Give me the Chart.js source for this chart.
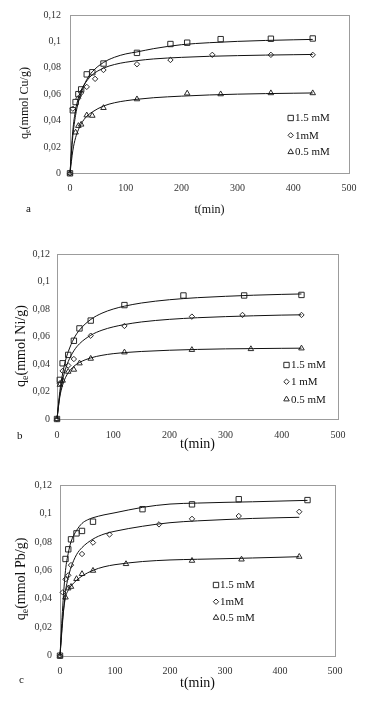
<!DOCTYPE html>
<html><head><meta charset="utf-8">
<script src="https://cdn.jsdelivr.net/npm/chart.js@4.4.1/dist/chart.umd.min.js"></script>
<style>
html,body{margin:0;padding:0;background:#fff;}
body{width:370px;height:705px;position:relative;overflow:hidden;}
canvas{position:absolute;left:0;}
.lbl{position:absolute;font-family:"Liberation Serif","Times New Roman",serif;font-size:11px;color:#111;line-height:11px;}
</style></head><body>
<canvas id="ca" width="370" height="235" style="top:0px;width:370px;height:235px"></canvas>
<canvas id="cb" width="370" height="235" style="top:235px;width:370px;height:235px"></canvas>
<canvas id="cc" width="370" height="235" style="top:470px;width:370px;height:235px"></canvas>
<div class="lbl" style="left:26px;top:203px">a</div>
<div class="lbl" style="left:17px;top:430px">b</div>
<div class="lbl" style="left:19px;top:674px">c</div>
<script>
// ---------- shared axis data ----------
const xTicks = [0, 100, 200, 300, 400, 500];
const xTickLabels = ['0', '100', '200', '300', '400', '500'];
const yTicks = [0, 0.02, 0.04, 0.06, 0.08, 0.1, 0.12];
const yTickLabels = ['0', '0,02', '0,04', '0,06', '0,08', '0,1', '0,12'];
const xTitle = 't(min)';

// ---------- panel a : Cu ----------
const aTitleY = ['q', 'e', '(mmol Cu/g)'];
const aLabels = ['1.5 mM', '1mM', '0.5 mM'];
const aT15 = [0, 5, 10, 15, 20, 30, 40, 60, 120, 180, 210, 270, 360, 435];
const aQ15 = [0, 0.0478, 0.054, 0.060, 0.0636, 0.075, 0.0766, 0.0832, 0.0913, 0.098, 0.099, 0.1017, 0.102, 0.1022];
const aT10 = [0, 5, 15, 20, 30, 45, 60, 120, 180, 255, 360, 435];
const aQ10 = [0, 0.049, 0.057, 0.061, 0.0655, 0.0716, 0.0783, 0.0827, 0.0859, 0.0898, 0.0898, 0.0898];
const aT05 = [0, 10, 15, 20, 30, 40, 60, 120, 210, 270, 360, 435];
const aQ05 = [0, 0.031, 0.036, 0.037, 0.044, 0.0437, 0.0496, 0.0562, 0.0606, 0.060, 0.0608, 0.0608];
const aFitT = [0, 5, 10, 15, 20, 30, 40, 60, 80, 100, 120, 150, 200, 250, 300, 350, 400, 435];
const aFit15 = [0, 0.028, 0.044, 0.054, 0.061, 0.071, 0.077, 0.084, 0.088, 0.0905, 0.092, 0.0945, 0.0975, 0.099, 0.100, 0.1007, 0.1012, 0.1015];
const aFit10 = [0, 0.032, 0.048, 0.057, 0.063, 0.070, 0.0747, 0.0797, 0.0825, 0.0842, 0.0854, 0.0867, 0.0879, 0.0887, 0.0892, 0.0896, 0.0899, 0.0901];
const aFit05 = [0, 0.017, 0.027, 0.033, 0.0375, 0.0432, 0.0465, 0.051, 0.0535, 0.055, 0.0561, 0.0573, 0.0585, 0.0594, 0.060, 0.0604, 0.0607, 0.0609];

// ---------- panel b : Ni ----------
const bTitleY = ['q', 'e', '(mmol Ni/g)'];
const bLabels = ['1.5 mM', '1 mM', '0.5 mM'];
const bT15 = [0, 5, 10, 20, 30, 40, 60, 120, 225, 333, 435];
const bQ15 = [0, 0.0285, 0.0406, 0.0467, 0.057, 0.066, 0.0717, 0.083, 0.090, 0.090, 0.0904];
const bT10 = [0, 5, 10, 20, 30, 60, 120, 240, 330, 435];
const bQ10 = [0, 0.026, 0.035, 0.039, 0.0437, 0.0607, 0.0678, 0.0746, 0.0758, 0.0758];
const bT05 = [0, 5, 10, 20, 30, 40, 60, 120, 240, 345, 435];
const bQ05 = [0, 0.025, 0.028, 0.0345, 0.036, 0.0406, 0.044, 0.0486, 0.0504, 0.051, 0.0515];
const bFitT = [0, 5, 10, 15, 20, 30, 40, 60, 80, 100, 120, 150, 200, 250, 300, 350, 400, 435];
const bFit15 = [0, 0.020, 0.033, 0.0424, 0.049, 0.0586, 0.0648, 0.0725, 0.0771, 0.0801, 0.0822, 0.0845, 0.0869, 0.0884, 0.0894, 0.0902, 0.0908, 0.0911];
const bFit10 = [0, 0.0174, 0.0285, 0.0362, 0.0419, 0.0497, 0.0548, 0.061, 0.0647, 0.0671, 0.0688, 0.0707, 0.0726, 0.0738, 0.0746, 0.0752, 0.0757, 0.0759];
const bFit05 = [0, 0.0161, 0.0247, 0.0301, 0.0337, 0.0384, 0.0412, 0.0445, 0.0464, 0.0476, 0.0484, 0.0492, 0.0501, 0.0507, 0.0511, 0.0513, 0.0515, 0.0516];

// ---------- panel c : Pb ----------
const cTitleY = ['q', 'e', '(mmol Pb/g)'];
const cLabels = ['1.5 mM', '1mM', '0.5 mM'];
const cT15 = [0, 10, 15, 20, 30, 40, 60, 150, 240, 325, 450];
const cQ15 = [0, 0.068, 0.0748, 0.0818, 0.086, 0.0877, 0.0942, 0.103, 0.1064, 0.110, 0.1094];
const cT10 = [0, 5, 10, 15, 20, 40, 60, 90, 180, 240, 325, 435];
const cQ10 = [0, 0.0445, 0.0537, 0.0565, 0.0637, 0.0715, 0.0795, 0.0852, 0.0923, 0.0962, 0.0982, 0.1012];
const cT05 = [0, 10, 15, 20, 30, 40, 60, 120, 240, 330, 435];
const cQ05 = [0, 0.041, 0.0474, 0.0485, 0.054, 0.0575, 0.0598, 0.0645, 0.0668, 0.0677, 0.0696];
const cFitT15 = [0, 5, 10, 15, 20, 30, 40, 50, 60, 80, 100, 150, 200, 250, 300, 350, 400, 450];
const cFit15 = [0, 0.035, 0.060, 0.072, 0.080, 0.088, 0.093, 0.0955, 0.097, 0.099, 0.1005, 0.1043, 0.1066, 0.1073, 0.1078, 0.1082, 0.1087, 0.1092];
const cFitT = [0, 5, 10, 15, 20, 30, 40, 60, 80, 100, 150, 200, 250, 300, 350, 400, 435];
const cFit10 = [0, 0.025, 0.045, 0.055, 0.062, 0.071, 0.076, 0.082, 0.0855, 0.0875, 0.091, 0.0935, 0.0948, 0.0957, 0.0965, 0.097, 0.0973];
const cFit05 = [0, 0.027, 0.041, 0.046, 0.049, 0.053, 0.056, 0.060, 0.0625, 0.064, 0.0662, 0.0673, 0.0678, 0.0682, 0.0687, 0.0692, 0.0696];

// ---------- helpers ----------
const FONT = '"Liberation Serif", "Times New Roman", serif';
Chart.defaults.font.family = FONT;
const pts = (xs, ys) => xs.map((x, i) => ({x: x, y: ys[i]}));
const markerStyles = [
  {pointStyle: 'rect', radius: 3.8},
  {pointStyle: 'rectRot', radius: 2.7},
  {pointStyle: 'triangle', radius: 3.2}
];
const markColor = '#2a2a2a';

const framePlugin = {
  id: 'frame',
  beforeDatasetsDraw(chart) {
    const {ctx, chartArea: a} = chart;
    ctx.save();
    ctx.strokeStyle = '#9c9c9c';
    ctx.lineWidth = 1;
    ctx.strokeRect(Math.round(a.left) + 0.5, Math.round(a.top) + 0.5,
      Math.round(a.right) - Math.round(a.left), Math.round(a.bottom) - Math.round(a.top));
    ctx.restore();
  }
};

// y axis title with a subscript, drawn rotated
const yTitlePlugin = {
  id: 'yTitleSub',
  afterDraw(chart, args, o) {
    const ctx = chart.ctx;
    const big = o.size + 'px ' + FONT, small = Math.round(o.size * 0.68) + 'px ' + FONT;
    ctx.save();
    ctx.fillStyle = '#111';
    ctx.textBaseline = 'middle';
    ctx.textAlign = 'left';
    ctx.font = big; const w1 = ctx.measureText(o.parts[0]).width; const w3 = ctx.measureText(o.parts[2]).width;
    ctx.font = small; const w2 = ctx.measureText(o.parts[1]).width;
    const total = w1 + w2 + w3;
    ctx.translate(o.x, o.yc);
    ctx.rotate(-Math.PI / 2);
    let s = -total / 2;
    ctx.font = big; ctx.fillText(o.parts[0], s, 0);
    ctx.font = small; ctx.fillText(o.parts[1], s + w1, o.size * 0.28);
    ctx.font = big; ctx.fillText(o.parts[2], s + w1 + w2, 0);
    ctx.restore();
  }
};

function drawMarker(ctx, style, r, x, y) {
  if (Chart.helpers && Chart.helpers.drawPoint) {
    Chart.helpers.drawPoint(ctx, {pointStyle: style, radius: r, rotation: 0, borderWidth: 1}, x, y);
    return;
  }
  ctx.beginPath();
  if (style === 'rect') { const s = r * Math.SQRT1_2; ctx.rect(x - s, y - s, 2 * s, 2 * s); }
  else if (style === 'rectRot') { ctx.moveTo(x, y - r); ctx.lineTo(x + r, y); ctx.lineTo(x, y + r); ctx.lineTo(x - r, y); ctx.closePath(); }
  else { ctx.moveTo(x, y - r); ctx.lineTo(x + r * 0.866, y + r * 0.5); ctx.lineTo(x - r * 0.866, y + r * 0.5); ctx.closePath(); }
  ctx.stroke();
}

const legendPlugin = {
  id: 'insideLegend',
  afterDatasetsDraw(chart, args, opts) {
    const ctx = chart.ctx;
    ctx.save();
    ctx.font = opts.fontSize + 'px ' + FONT;
    ctx.textBaseline = 'middle';
    ctx.textAlign = 'left';
    chart.data.datasets.forEach((ds) => {
      if (!ds.inLegend) return;
      const y = opts.ys[ds.legendIndex];
      ctx.strokeStyle = markColor;
      ctx.fillStyle = 'rgba(0,0,0,0)';
      ctx.lineWidth = 1;
      drawMarker(ctx, ds.pointStyle, ds.pointRadius, opts.markerX, y);
      ctx.fillStyle = '#111';
      ctx.fillText(ds.label, opts.textX, y + 0.5);
    });
    ctx.restore();
  }
};

function makePanel(id, p) {
  const datasets = [];
  p.fits.forEach((f) => {
    datasets.push({
      label: '', data: pts(f.t, f.q), showLine: true, borderColor: '#111', borderWidth: 1,
      pointRadius: 0, pointHoverRadius: 0, cubicInterpolationMode: 'monotone', fill: false, clip: false
    });
  });
  p.series.forEach((s, i) => {
    datasets.push({
      label: p.labels[i], data: pts(s.t, s.q), showLine: false,
      pointStyle: markerStyles[i].pointStyle, pointRadius: markerStyles[i].radius,
      pointBorderWidth: 1, pointBorderColor: markColor, pointBackgroundColor: 'rgba(255,255,255,0)',
      borderColor: markColor, backgroundColor: 'rgba(255,255,255,0)',
      clip: false, inLegend: true, legendIndex: i
    });
  });
  return new Chart(document.getElementById(id), {
    type: 'scatter',
    data: {datasets: datasets},
    plugins: [framePlugin, legendPlugin, yTitlePlugin],
    options: {
      responsive: false, animation: false, devicePixelRatio: 1,
      layout: {padding: {left: 0, right: p.padR, top: p.padT, bottom: 0}},
      plugins: {
        legend: {display: false}, tooltip: {enabled: false},
        insideLegend: {markerX: p.legX, textX: p.legTX, ys: p.legYs, fontSize: p.legFont},
        yTitleSub: {parts: p.yTitle, size: p.titleFont, x: p.yTitleX, yc: p.yTitleYC}
      },
      scales: {
        x: {
          type: 'linear', min: 0, max: 500,
          afterBuildTicks: (s) => { s.ticks = xTicks.map(v => ({value: v})); },
          afterFit: (s) => { s.height = p.xH; },
          grid: {display: false, drawTicks: false}, border: {display: false},
          ticks: {padding: p.xTickPad, color: '#333', font: {size: 10}, maxRotation: 0,
            callback: (v, i) => xTickLabels[i]},
          title: {display: true, text: xTitle, color: '#111', font: {size: p.titleFont},
            padding: {top: 0, bottom: p.xTitlePad}}
        },
        y: {
          type: 'linear', min: 0, max: 0.12,
          afterBuildTicks: (s) => { s.ticks = yTicks.map(v => ({value: v})); },
          afterFit: (s) => { s.width = p.yW; },
          grid: {display: false, drawTicks: false}, border: {display: false},
          ticks: {padding: p.yTickPad, color: '#333', font: {size: 10},
            callback: (v, i) => yTickLabels[i]},
          title: {display: false}
        }
      }
    }
  });
}

makePanel('ca', {
  labels: aLabels, yTitle: aTitleY,
  series: [{t: aT15, q: aQ15}, {t: aT10, q: aQ10}, {t: aT05, q: aQ05}],
  fits: [{t: aFitT, q: aFit15}, {t: aFitT, q: aFit10}, {t: aFitT, q: aFit05}],
  padR: 21, padT: 10, yW: 70, xH: 61.7, yTickPad: 9, xTickPad: 9,
  titleFont: 12, xTitlePad: 17.8, yTitleX: 25, yTitleYC: 103,
  legX: 290.7, legTX: 295, legYs: [118, 135.3, 152], legFont: 11
});
makePanel('cb', {
  labels: bLabels, yTitle: bTitleY,
  series: [{t: bT15, q: bQ15}, {t: bT10, q: bQ10}, {t: bT05, q: bQ05}],
  fits: [{t: bFitT, q: bFit15}, {t: bFitT, q: bFit10}, {t: bFitT, q: bFit05}],
  padR: 32, padT: 19.3, yW: 57, xH: 51, yTickPad: 7, xTickPad: 10,
  titleFont: 14, xTitlePad: 17.3, yTitleX: 21, yTitleYC: 111,
  legX: 286.5, legTX: 291, legYs: [130, 146.7, 164.3], legFont: 11
});
makePanel('cc', {
  labels: cLabels, yTitle: cTitleY,
  series: [{t: cT15, q: cQ15}, {t: cT10, q: cQ10}, {t: cT05, q: cQ05}],
  fits: [{t: cFitT15, q: cFit15}, {t: cFitT, q: cFit10}, {t: cFitT, q: cFit05}],
  padR: 35, padT: 15, yW: 60, xH: 49.3, yTickPad: 8, xTickPad: 10,
  titleFont: 14, xTitlePad: 13.3, yTitleX: 21.7, yTitleYC: 109,
  legX: 216, legTX: 220, legYs: [115, 131.7, 147.7], legFont: 11
});
</script>
</body></html>
